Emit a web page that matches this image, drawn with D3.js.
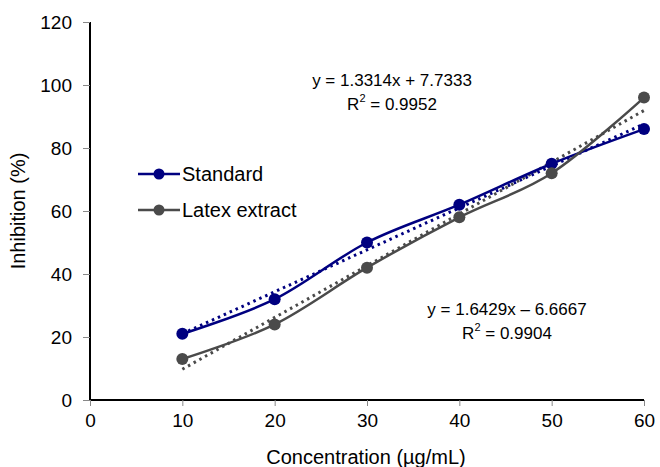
<!DOCTYPE html>
<html>
<head>
<meta charset="utf-8">
<script src="https://cdn.jsdelivr.net/npm/d3@7"></script>
<style>
  body { margin: 0; background: #fff; }
  text { font-family: "Liberation Sans", Arial, sans-serif; fill: #000; }
</style>
</head>
<body>
<script>
const m = {
    width: 660,
    height: 467,
    left: 90,
    right: 644,
    top: 22,
    bottom: 400
}

// values
const concentrations = [10, 20, 30, 40, 50, 60]
const standard = [21, 32, 50, 62, 75, 86]
const latex = [13, 24, 42, 58, 72, 96]
const xTicks = [0, 10, 20, 30, 40, 50, 60]
const yTicks = [0, 20, 40, 60, 80, 100, 120]
const trendStandard = { slope: 1.3314, intercept: 7.7333, label: 'y = 1.3314x + 7.7333', r2: '0.9952' }
const trendLatex = { slope: 1.6429, intercept: -6.6667, label: 'y = 1.6429x \u2013 6.6667', r2: '0.9904' }

const svg = d3.select('body').append('svg')
    .attr('width', m.width)
    .attr('height', m.height)

const x = d3.scaleLinear().domain([0, 60]).range([m.left, m.right])
const y = d3.scaleLinear().domain([0, 120]).range([m.bottom, m.top])

// axes
const yAxis = svg.append('g')
    .attr('transform', `translate(${m.left},0)`)
    .call(d3.axisLeft(y).tickValues(yTicks).tickSize(7).tickPadding(11))
const xAxis = svg.append('g')
    .attr('transform', `translate(0,${m.bottom})`)
    .call(d3.axisBottom(x).tickValues(xTicks).tickSize(6).tickPadding(8))

;[xAxis, yAxis].forEach(function(a) {
    a.select('.domain').attr('stroke', '#000').attr('stroke-width', 2)
    a.selectAll('.tick line').attr('stroke', '#888').attr('stroke-width', 1)
    a.selectAll('.tick text')
        .attr('font-size', 19)
        .attr('font-family', '"Liberation Sans", Arial, sans-serif')
        .attr('fill', '#000')
})
yAxis.select('.domain').attr('d', `M0,${m.top}V${m.bottom}`)
xAxis.select('.domain').attr('d', `M${m.left},0H${m.right}`)

svg.append('text')
    .attr('x', 366)
    .attr('y', 464)
    .attr('text-anchor', 'middle')
    .attr('font-size', 20)
    .text('Concentration (\u00b5g/mL)')

svg.append('text')
    .attr('transform', `translate(25,${(m.top + m.bottom) / 2}) rotate(-90)`)
    .attr('text-anchor', 'middle')
    .attr('font-size', 20)
    .text('Inhibition (%)')

const series = [
    { name: 'Standard', values: standard, color: '#000080', trend: trendStandard },
    { name: 'Latex extract', values: latex, color: '#4a4a4a', trend: trendLatex }
]

const line = d3.line()
    .x(d => x(d[0]))
    .y(d => y(d[1]))
    .curve(d3.curveCatmullRom.alpha(0))

// trendlines (dotted)
series.forEach(function(s) {
    const t = s.trend
    svg.append('line')
        .attr('x1', x(10)).attr('y1', y(t.slope * 10 + t.intercept))
        .attr('x2', x(60)).attr('y2', y(t.slope * 60 + t.intercept))
        .attr('stroke', s.color)
        .attr('stroke-width', 3)
        .attr('stroke-dasharray', '2.5,4')
})

series.forEach(function(s) {
    const pts = concentrations.map((c, i) => [c, s.values[i]])
    svg.append('path')
        .attr('d', line(pts))
        .attr('fill', 'none')
        .attr('stroke', s.color)
        .attr('stroke-width', 2.5)
    svg.selectAll(null)
        .data(pts)
        .enter()
        .append('circle')
            .attr('cx', d => x(d[0]))
            .attr('cy', d => y(d[1]))
            .attr('r', 6)
            .attr('fill', s.color)
})

// legend
series.forEach(function(s, i) {
    const ly = 174 + i * 36
    svg.append('line')
        .attr('x1', 138).attr('x2', 180)
        .attr('y1', ly).attr('y2', ly)
        .attr('stroke', s.color).attr('stroke-width', 2.5)
    svg.append('circle')
        .attr('cx', 159).attr('cy', ly).attr('r', 5.5)
        .attr('fill', s.color)
    svg.append('text')
        .attr('x', 182).attr('y', ly + 7)
        .attr('font-size', 20)
        .text(s.name)
})

// equation labels
function equation(t, cx, cy) {
    svg.append('text')
        .attr('x', cx).attr('y', cy)
        .attr('text-anchor', 'middle')
        .attr('font-size', 17)
        .text(t.label)
    const r = svg.append('text')
        .attr('x', cx).attr('y', cy + 24)
        .attr('text-anchor', 'middle')
        .attr('font-size', 17)
    r.append('tspan').text('R')
    r.append('tspan').attr('font-size', 11).attr('dy', -8).text('2')
    r.append('tspan').attr('dy', 8).text(' = ' + t.r2)
}
equation(trendStandard, 392, 86)
equation(trendLatex, 507, 315)
</script>
</body>
</html>
